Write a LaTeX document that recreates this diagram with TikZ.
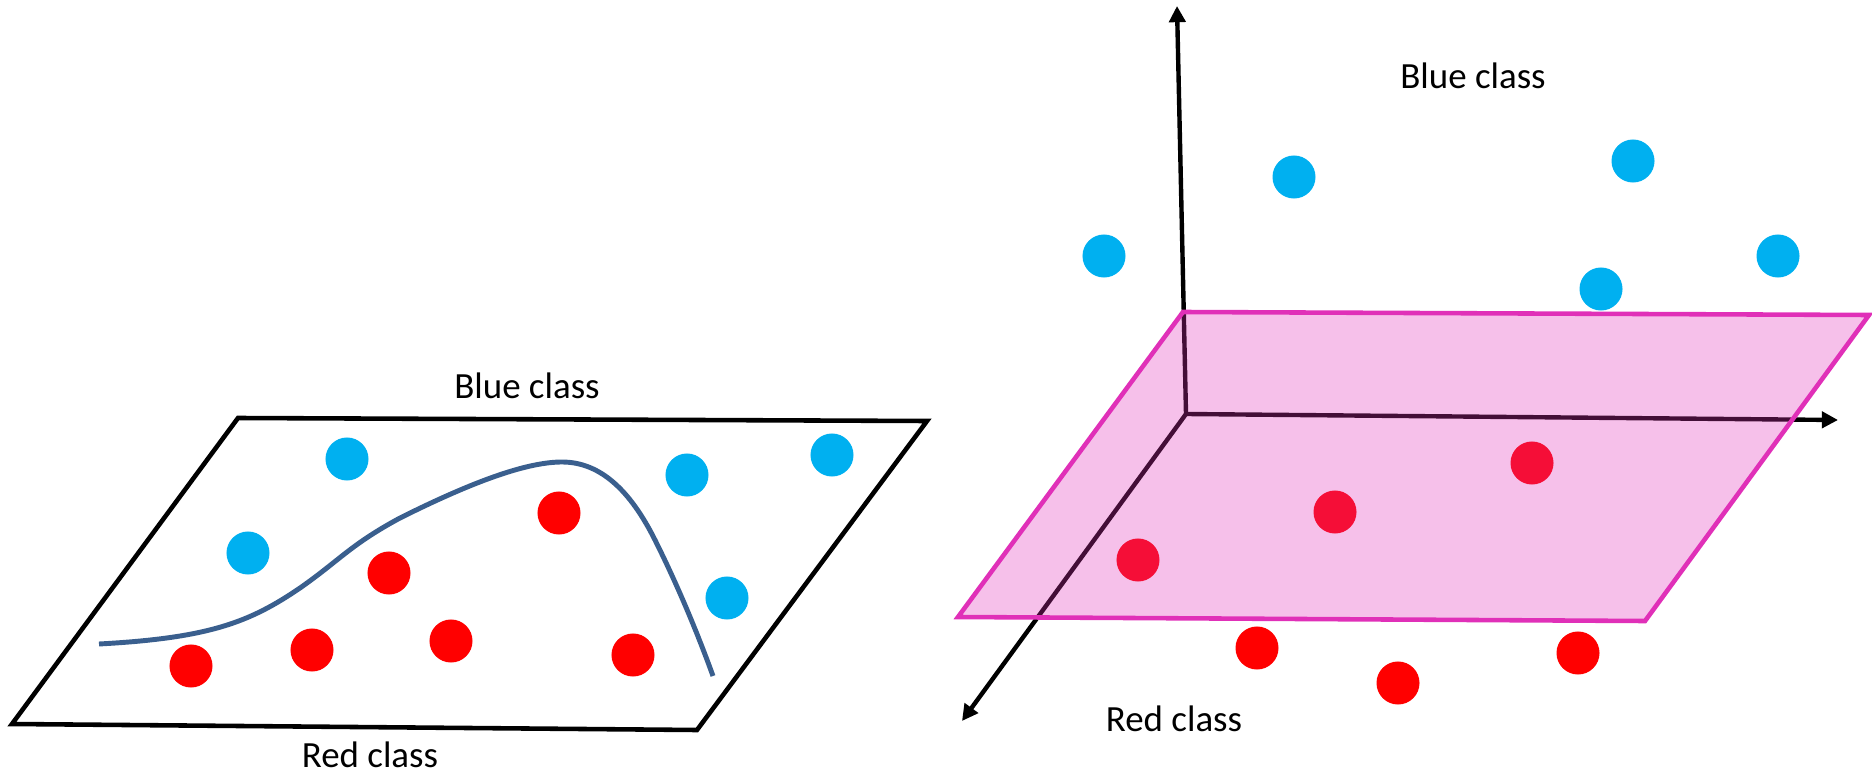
\documentclass[tikz,border=0pt]{standalone}
\usepackage{fontspec}
\setmainfont{Carlito}
\usepackage{tikz}
\usetikzlibrary{arrows.meta}
\definecolor{dotblue}{HTML}{00B0F0}
\definecolor{dotred}{HTML}{FF0000}
\definecolor{curveblue}{HTML}{3A5F8E}
\definecolor{planepink}{HTML}{E030B8}

\begin{document}
\begin{tikzpicture}[
    x=0.01cm, y=-0.01cm,
    dot/.style={circle, fill=#1, minimum size=0.43cm, inner sep=0pt},
    dot/.default=dotblue,
    classname/.style={font=\fontsize{10.5}{12}\selectfont, inner sep=0pt},
    axis/.style={-{Triangle[length=4.6pt, width=4.6pt]}, line width=1.25pt},
    frame/.style={line width=1.3pt, line join=miter}
]
\useasboundingbox (0,0) rectangle (1872,773);

% Left: 2D feature space
\coordinate (la) at (238,418);
\coordinate (lb) at (927,421);
\coordinate (lc) at (697,730);
\coordinate (ld) at (12,724);
\draw[frame] (la) -- (lb) -- (lc) -- (ld) -- cycle;

\node[classname] at (527,386) (lblue) {Blue class};
\node[classname] at (370,755) (lred) {Red class};

\node[dot] at (347,459) (lb1) {};
\node[dot] at (248,553) (lb2) {};
\node[dot] at (687,475) (lb3) {};
\node[dot] at (832,455) (lb4) {};
\node[dot] at (727,598) (lb5) {};

\node[dot=dotred] at (559,513) (lr1) {};
\node[dot=dotred] at (389,573) (lr2) {};
\node[dot=dotred] at (191,666) (lr3) {};
\node[dot=dotred] at (312,650) (lr4) {};
\node[dot=dotred] at (451,641) (lr5) {};
\node[dot=dotred] at (633,655) (lr6) {};

% Non-linear decision boundary
\coordinate (cstart) at (99,644);
\coordinate (cpeak) at (562,462);
\coordinate (cend) at (713,676);
\draw[curveblue, line width=1.4pt] (cstart)
    .. controls (210,638) and (250,622) .. (300,588)
    .. controls (340,560) and (350,545) .. (400,518)
    .. controls (480,478) and (530,462) .. (cpeak)
    .. controls (600,462) and (630,490) .. (655,540)
    .. controls (680,590) and (700,640) .. (cend);

% Right: 3D feature space
\coordinate (o) at (1186,414);
\coordinate (zend) at (1177,6);
\coordinate (xend) at (1838,420);
\coordinate (yend) at (962,721);
\draw[axis] (o) -- (zend);
\draw[axis] (o) -- (xend);
\draw[axis] (o) -- (yend);

\node[dot=dotred] at (1138,560) (rr1) {};
\node[dot=dotred] at (1335,512) (rr2) {};
\node[dot=dotred] at (1532,463) (rr3) {};

% Separating hyperplane
\coordinate (pa) at (1183,312);
\coordinate (pb) at (1869,315);
\coordinate (pc) at (1645,621);
\coordinate (pd) at (958,617);
\fill[planepink, opacity=0.3] (pa) -- (pb) -- (pc) -- (pd) -- cycle;
\draw[planepink, frame] (pa) -- (pb) -- (pc) -- (pd) -- cycle;

\node[classname] at (1473,76) (rblue) {Blue class};
\node[classname] at (1174,719) (rred) {Red class};

\node[dot] at (1104,256) (rb1) {};
\node[dot] at (1294,177) (rb2) {};
\node[dot] at (1633,161) (rb3) {};
\node[dot] at (1778,256) (rb4) {};
\node[dot] at (1601,289) (rb5) {};

\node[dot=dotred] at (1257,648) (rr4) {};
\node[dot=dotred] at (1398,683) (rr5) {};
\node[dot=dotred] at (1578,653) (rr6) {};

\end{tikzpicture}
\end{document}
